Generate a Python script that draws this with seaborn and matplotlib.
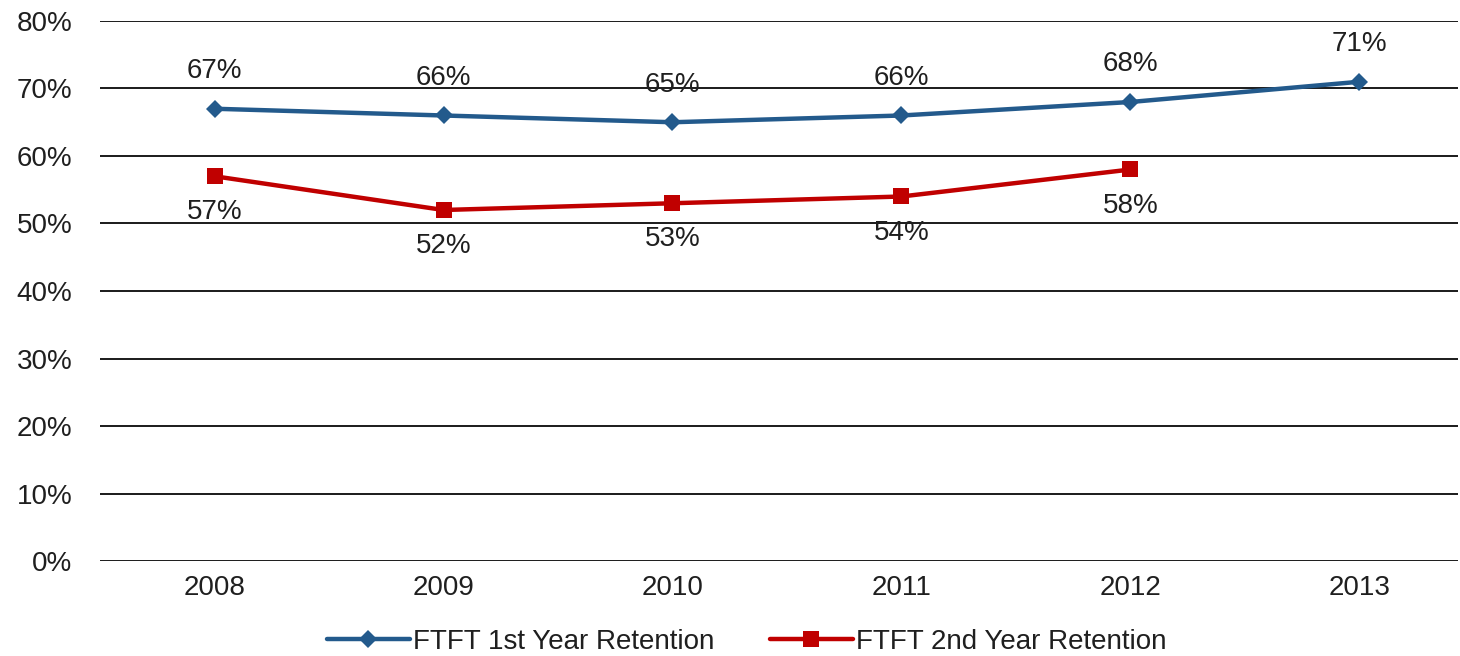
import numpy as np
import pandas as pd
import seaborn as sns
import matplotlib.pyplot as plt
from matplotlib.ticker import PercentFormatter

years = ["2008", "2009", "2010", "2011", "2012", "2013"]
first_year = [67, 66, 65, 66, 68, 71]
second_year = [57, 52, 53, 54, 58, np.nan]
series_names = ["FTFT 1st Year Retention", "FTFT 2nd Year Retention"]

sns.set_style("white")
plt.rcParams["font.family"] = ["Liberation Sans", "DejaVu Sans"]

df = pd.DataFrame({
    "year": years * 2,
    "rate": first_year + second_year,
    "series": [series_names[0]] * 6 + [series_names[1]] * 6,
})
df["x"] = df["year"].map({y: i for i, y in enumerate(years)})

fig = plt.figure(figsize=(14.6, 6.56), dpi=100)
ax = fig.add_axes([0.0685, 0.1448, 0.9301, 0.8232])

for v in range(0, 90, 10):
    ax.axhline(v, color="#1a1a1a", lw=1.4, zorder=0)

colors = {series_names[0]: "#235A8C", series_names[1]: "#C00000"}
sns.lineplot(data=df.dropna(), x="x", y="rate", hue="series", style="series",
             palette=colors, markers={series_names[0]: "D", series_names[1]: "s"},
             dashes=False, lw=3.2, markeredgewidth=0, ax=ax)

marker_size = {"D": 9.5, "s": 11}
for line in ax.get_lines():
    if line.get_marker() in marker_size:
        line.set_markersize(marker_size[line.get_marker()])

txt = "#1f1f1f"
for i, v in enumerate(first_year):
    ax.annotate(f"{v}%", (i, v), xytext=(0, 27), textcoords="offset points",
                ha="center", va="center", fontsize=20, color=txt)
for i, v in enumerate(second_year):
    if not np.isnan(v):
        ax.annotate(f"{v:.0f}%", (i, v), xytext=(0, -26), textcoords="offset points",
                    ha="center", va="center", fontsize=20, color=txt)

ax.set_xlim(-0.5, 5.43)
ax.set_ylim(0, 80)
ax.set_xticks(range(len(years)))
ax.set_xticklabels(years)
ax.set_yticks(range(0, 90, 10))
ax.yaxis.set_major_formatter(PercentFormatter(decimals=0))
ax.tick_params(axis="both", length=0, labelsize=20, colors=txt)
ax.tick_params(axis="x", pad=10)
ax.tick_params(axis="y", pad=20)
ax.set_xlabel("")
ax.set_ylabel("")
sns.despine(ax=ax, left=True, bottom=True)

leg = ax.legend(loc="upper center", bbox_to_anchor=(0.476, -0.08), ncol=2,
                frameon=False, fontsize=20, handlelength=3.0, handletextpad=0.1,
                columnspacing=2.0)
for t in leg.get_texts():
    t.set_color(txt)
for h in leg.legend_handles:
    if h.get_marker() in marker_size:
        h.set_markersize(marker_size[h.get_marker()])

fig.savefig("out.png", dpi=100)
